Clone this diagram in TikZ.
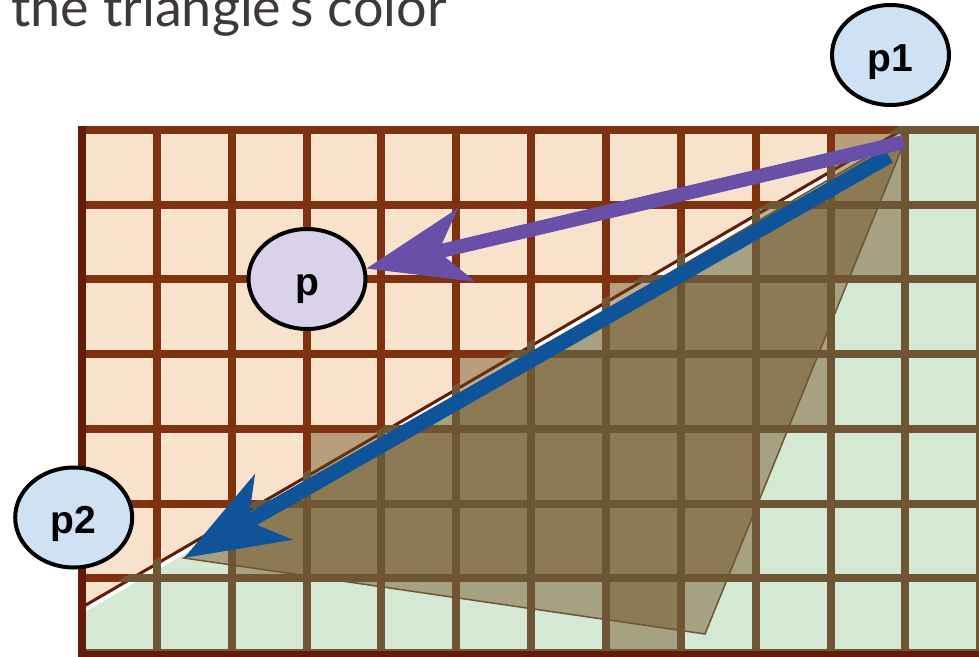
\documentclass[tikz,border=0pt]{standalone}
\usepackage{fontspec}
\setmainfont{Liberation Sans}
\newfontfamily\titlefont{Lato}
\usetikzlibrary{arrows.meta,shapes.geometric}
\definecolor{orangebg}{RGB}{249,226,204}
\definecolor{greenbg}{RGB}{213,232,212}
\definecolor{gridbrown}{RGB}{126,50,16}
\definecolor{gridolive}{RGB}{110,85,51}
\definecolor{framered}{RGB}{98,28,8}
\definecolor{shade}{RGB}{109,76,30}
\definecolor{arrowpurple}{RGB}{104,80,168}
\definecolor{arrowblue}{RGB}{15,84,152}
\definecolor{nodeblue}{RGB}{207,226,243}
\definecolor{nodelilac}{RGB}{217,210,233}
\definecolor{titlegrey}{RGB}{62,56,56}
\begin{document}
\begin{tikzpicture}[x=1pt,y=-1pt,
  ptnode/.style={ellipse,draw=black,line width=4pt,minimum width=117pt,minimum height=100pt,
    inner sep=0pt,text height=32pt,text depth=0pt,font=\fontsize{39}{40}\selectfont\bfseries},
  cellshade/.style={fill=shade,fill opacity=0.45},
  gridline/.style={line width=8pt},
  bigarrow/.style={-{Stealth[length=102pt,width=74pt,inset=28pt]}},
]
\useasboundingbox (0,0) rectangle (979,656);
% title
\node[anchor=base west,inner sep=0pt,text=titlegrey,font=\titlefont\fontsize{54}{58}\selectfont] (title) at (11,26) {the triangle’s color};
% backgrounds
\fill[greenbg] (82,130) rectangle (980,653);
\fill[orangebg] (82,130) -- (905,130) -- (82,609) -- cycle;
\begin{scope}
  \clip (82,130) rectangle (980,653);
  \draw[white,line width=4pt] (961,99.7) -- (61,623.5);
  \draw[framered,line width=3pt] (959.25,96.7) -- (59.25,620.5);
\end{scope}
% covered pixels
\foreach \c/\r in {10/0,9/1,10/1,7/2,8/2,9/2,5/3,6/3,7/3,8/3,9/3,3/4,4/4,5/4,6/4,7/4,8/4,2/5,3/5,4/5,5/5,6/5,7/5,8/5,7/6}
  \fill[cellshade] ({82+74.85*\c},{130+74.7*\r}) rectangle ({82+74.85*(\c+1)},{130+74.7*(\r+1)});
% triangle
\coordinate (P1) at (908,133);
\coordinate (P2) at (184,558);
\coordinate (P3) at (705,634);
\fill[cellshade] (P1) -- (P2) -- (P3) -- cycle;
\draw[gridolive,line width=1.5pt,line join=miter] (P1) -- (P2) -- (P3) -- cycle;
% grid, upper region
\begin{scope}
  \clip (40,90) -- (963,90) -- (40,627) -- cycle;
  \foreach \k in {0,...,12}
    \draw[gridline,gridbrown] ({82+74.85*\k},126) -- ({82+74.85*\k},657);
  \foreach \j in {0,...,7}
    \draw[gridline,gridbrown] (78,{130+74.7*\j}) -- (984,{130+74.7*\j});
\end{scope}
% grid, lower region
\begin{scope}
  \clip (963,90) -- (1000,90) -- (1000,700) -- (40,700) -- (40,627) -- cycle;
  \foreach \k in {0,...,12}
    \draw[gridline,gridolive] ({82+74.85*\k},126) -- ({82+74.85*\k},657);
  \foreach \j in {0,...,7}
    \draw[gridline,gridolive] (78,{130+74.7*\j}) -- (984,{130+74.7*\j});
\end{scope}
% frame
\draw[gridline,framered] (82,126) -- (82,657);
\draw[framered,line width=6pt] (78,654) -- (984,654);
% nodes
\node[ptnode,fill=nodeblue] (p1) at (890.5,55) {p1};
\node[ptnode,fill=nodelilac] (p) at (307,279) {p};
\node[ptnode,fill=nodeblue] (p2) at (73.7,517.5) {p2};
% arrows
\coordinate (S1) at (904,142);
\coordinate (S2) at (889,156);
\draw[bigarrow,arrowblue,line width=15pt] (S2) -- (P2);
\draw[bigarrow,arrowpurple,line width=14pt] (S1) -- (p.10);
\end{tikzpicture}
\end{document}
